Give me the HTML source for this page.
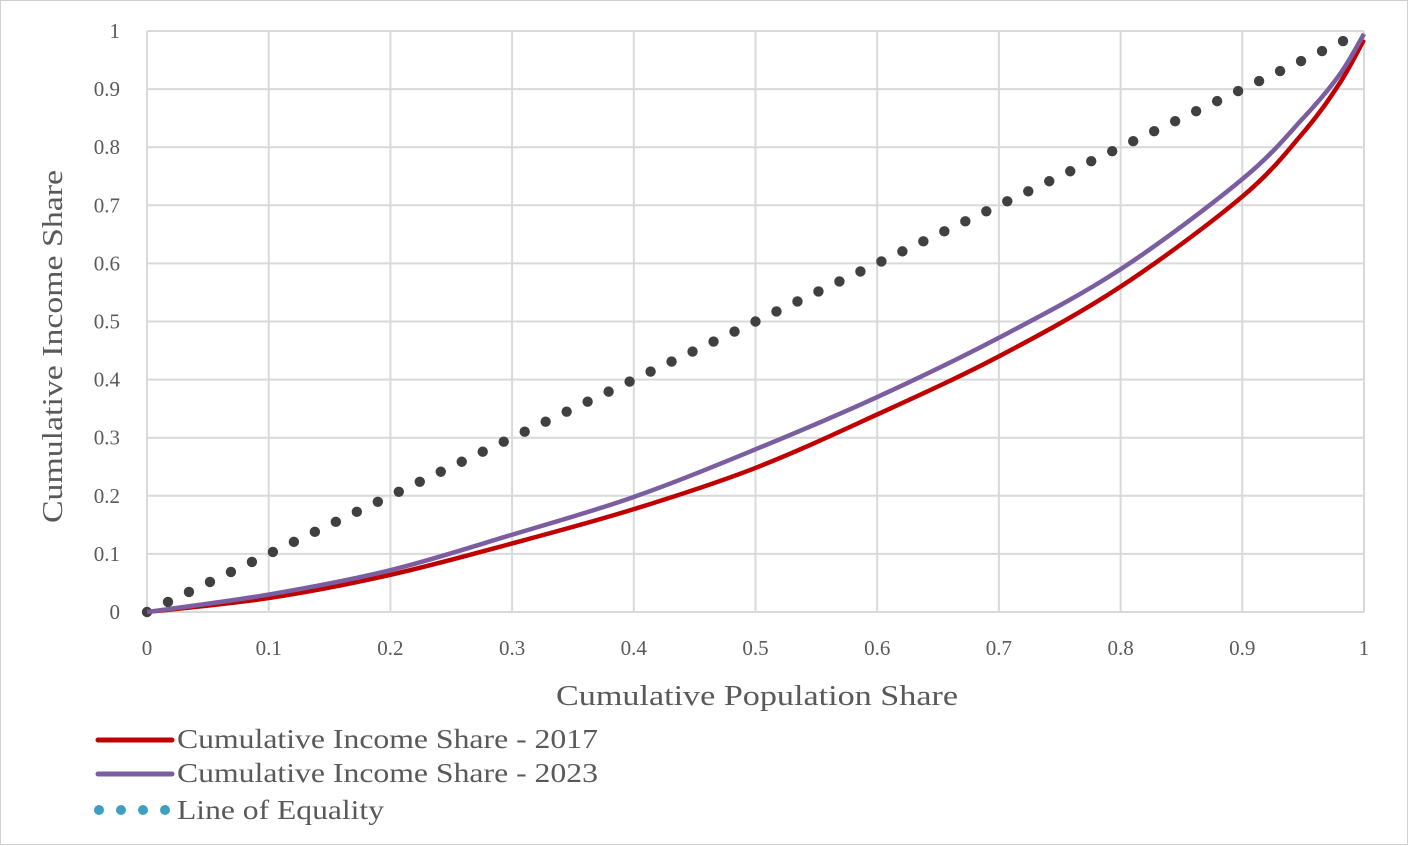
<!DOCTYPE html>
<html><head><meta charset="utf-8"><style>
html,body{margin:0;padding:0;background:#fff;}
svg{display:block;font-family:"Liberation Serif",serif;}
</style></head><body>
<svg id="s" width="1409" height="846" viewBox="0 0 1409 846" xmlns="http://www.w3.org/2000/svg">
<rect x="0.5" y="0.5" width="1407" height="844" fill="#fff" stroke="#d0d0d0"/>
<g id="grid" stroke="#d9d9d9" stroke-width="2"></g>
<g id="ticks" fill="#595959" font-size="21"></g>
<text x="556" y="705" textLength="402" lengthAdjust="spacingAndGlyphs" font-size="29" fill="#595959">Cumulative Population Share</text>
<text transform="translate(62,523) rotate(-90)" textLength="353" lengthAdjust="spacingAndGlyphs" font-size="29" fill="#595959">Cumulative Income Share</text>
<g id="dots" fill="#404040"></g>
<path id="red" fill="none" stroke="#c00000" stroke-width="4.5"/>
<path id="pur" fill="none" stroke="#7a5ea0" stroke-width="4.5"/>
<line x1="98" y1="740" x2="172" y2="740" stroke="#c00000" stroke-width="5" stroke-linecap="round"/>
<line x1="98" y1="774" x2="172" y2="774" stroke="#7a5ea0" stroke-width="5" stroke-linecap="round"/>
<g fill="#3ea0c0"><circle cx="99" cy="810" r="5"/><circle cx="121" cy="810" r="5"/><circle cx="143" cy="810" r="5"/><circle cx="165" cy="810" r="5"/></g>
<g font-size="27" fill="#595959">
<text x="177" y="748" textLength="421" lengthAdjust="spacingAndGlyphs">Cumulative Income Share - 2017</text>
<text x="177" y="782" textLength="421" lengthAdjust="spacingAndGlyphs">Cumulative Income Share - 2023</text>
<text x="177" y="819" textLength="207" lengthAdjust="spacingAndGlyphs">Line of Equality</text>
</g>
</svg>
<script>
const NS="http://www.w3.org/2000/svg";
const X=p=>147+1217*p, Y=v=>612-581*v;
const g=document.getElementById('grid'),t=document.getElementById('ticks');
for(let i=0;i<=10;i++){
 const x=X(i/10),y=Y(i/10);
 let l=document.createElementNS(NS,'line');l.setAttribute('x1',x);l.setAttribute('x2',x);l.setAttribute('y1',31);l.setAttribute('y2',612);g.appendChild(l);
 l=document.createElementNS(NS,'line');l.setAttribute('x1',147);l.setAttribute('x2',1364);l.setAttribute('y1',y);l.setAttribute('y2',y);g.appendChild(l);
 const lab=i==0?'0':i==10?'1':'0.'+i;
 let tx=document.createElementNS(NS,'text');tx.setAttribute('x',x);tx.setAttribute('y',655);tx.setAttribute('text-anchor','middle');tx.textContent=lab;t.appendChild(tx);
 tx=document.createElementNS(NS,'text');tx.setAttribute('x',120);tx.setAttribute('y',y+7);tx.setAttribute('text-anchor','end');tx.textContent=lab;t.appendChild(tx);
}
const d=document.getElementById('dots');
for(let i=0;i<=57;i++){const p=i/58;const c=document.createElementNS(NS,'circle');c.setAttribute('cx',X(p));c.setAttribute('cy',Y(p));c.setAttribute('r',5.2);d.appendChild(c);}
function cr(pts){let s='M'+pts[0][0]+','+pts[0][1];
 for(let i=0;i<pts.length-1;i++){const p0=pts[i-1]||pts[i],p1=pts[i],p2=pts[i+1],p3=pts[i+2]||p2;
 s+=' C'+(p1[0]+(p2[0]-p0[0])/6)+','+(p1[1]+(p2[1]-p0[1])/6)+' '+(p2[0]-(p3[0]-p1[0])/6)+','+(p2[1]-(p3[1]-p1[1])/6)+' '+p2[0]+','+p2[1];}
 return s;}
const red=[[0,0],[.1,.024],[.2,.064],[.3,.118],[.4,.177],[.5,.248],[.6,.34],[.7,.44],[.8,.56],[.9,.715],[.95,.825],[.98,.91],[1,.985]];
const pur=[[0,0],[.1,.03],[.2,.072],[.3,.133],[.4,.198],[.5,.28],[.6,.37],[.7,.472],[.8,.59],[.9,.745],[.95,.85],[.98,.925],[1,.995]];
document.getElementById('red').setAttribute('d',cr(red.map(a=>[X(a[0]),Y(a[1])])));
document.getElementById('pur').setAttribute('d',cr(pur.map(a=>[X(a[0]),Y(a[1])])));
</script>
</body></html>
